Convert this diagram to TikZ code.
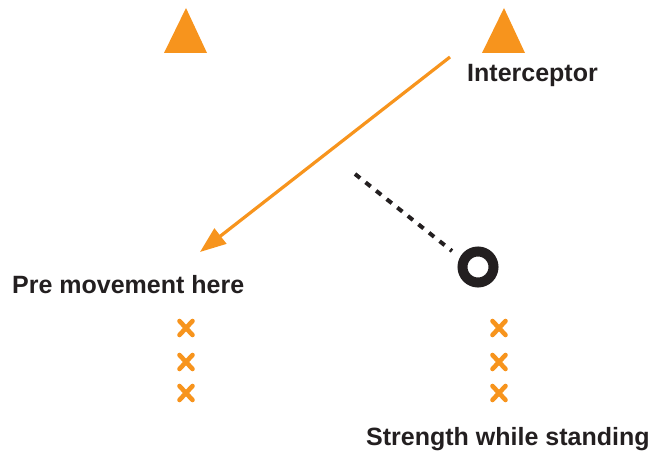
\documentclass[tikz,border=0pt]{standalone}
\usepackage{fontspec}
\setmainfont{Liberation Sans}
\usetikzlibrary{arrows.meta}
\definecolor{drillorange}{RGB}{247,148,29}
\definecolor{drillink}{RGB}{35,31,32}
\begin{document}
\begin{tikzpicture}[x=1pt,y=-1pt,
  cone/.style={fill=drillorange},
  lbl/.style={font=\fontsize{25}{29}\selectfont\bfseries, text=drillink, inner sep=0pt, anchor=base west},
  xmark/.style={draw=drillorange, line width=4.6pt, line cap=round},
  run/.style={draw=drillorange, line width=3.2pt, -{Triangle[length=26pt,width=19pt]}},
  pass/.style={draw=drillink, line width=4pt, dash pattern=on 6.5pt off 7pt},
  ball/.style={draw=drillink, line width=10pt}]
\useasboundingbox (0,0) rectangle (649,452);
% cones
\fill[cone] (164,53) -- (186,8) -- (207,53) -- cycle;
\fill[cone] (482,53) -- (504,8) -- (525,53) -- cycle;
% labels
\node[lbl] (interceptor) at (467,82) {Interceptor};
\node[lbl] (pre) at (12,293) {Pre movement here};
\node[lbl] (strength) at (366,445) {Strength while standing};
% run arrow
\coordinate (runstart) at (450,57);
\coordinate (runend) at (200,252);
\draw[run] (runstart) -- (runend);
% ball and pass line
\coordinate (ballc) at (478,267);
\draw[ball] (ballc) circle[radius=15.5];
\coordinate (passstart) at (355,174);
\coordinate (passend) at (452,251);
\draw[pass] (passstart) -- (passend);
% crosses
\foreach \cx in {186,499}{
  \foreach \cy in {328,362,393}{
    \draw[xmark] (\cx-6.5,\cy-7) -- (\cx+6.5,\cy+7);
    \draw[xmark] (\cx-6.5,\cy+7) -- (\cx+6.5,\cy-7);
  }
}
\end{tikzpicture}
\end{document}
